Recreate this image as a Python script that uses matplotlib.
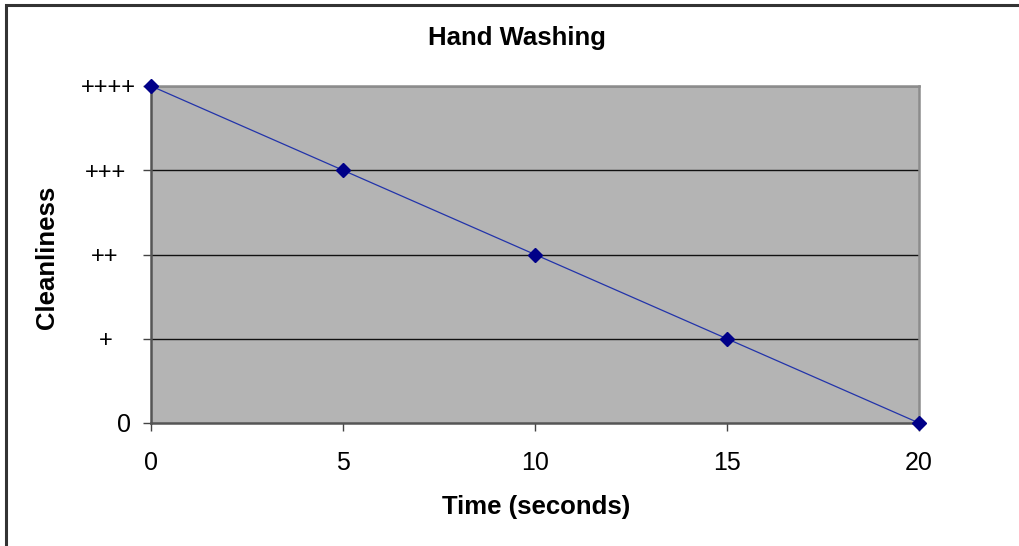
import matplotlib
matplotlib.use("Agg")
import matplotlib.pyplot as plt
import matplotlib.transforms as mtransforms
from matplotlib.patches import Rectangle

time_s = [0, 5, 10, 15, 20]
cleanliness = [4, 3, 2, 1, 0]
x_ticks = [0, 5, 10, 15, 20]
y_ticks = [0, 1, 2, 3, 4]
y_tick_labels = ["0", "+", "++", "+++", "++++"]
y_label_shift_px = [-1, -19, -13, -5, 4]
y_label_size = [18, 17, 17, 17, 17]

plt.rcParams['font.family'] = ['Liberation Sans', 'DejaVu Sans']

W, H = 1019, 546
fig = plt.figure(figsize=(W / 100, H / 100), dpi=100)
fig.patch.set_facecolor('white')

# outer border
fig.add_artist(Rectangle((6 / W, -0.05), 1.1, (H - 5) / H + 0.05, transform=fig.transFigure,
                         fill=False, edgecolor='#333333', linewidth=2.2))

ax = fig.add_axes([151 / W, (H - 423) / H, (919 - 151) / W, (423 - 86) / H])
ax.set_facecolor('#B4B4B4')
ax.set_xlim(0, 20)
ax.set_ylim(0, 4)

for y in y_ticks[1:]:
    ax.axhline(y, color='#111111', linewidth=1.0, zorder=1)

ax.plot(time_s, cleanliness, color='#2233AA', linewidth=0.9, zorder=3, clip_on=False)
ax.plot(time_s, cleanliness, linestyle='none', marker='D', markersize=7,
        color='#000088', zorder=4, clip_on=False)

ax.set_xticks(x_ticks)
ax.set_yticks(y_ticks)
ax.set_yticklabels(y_tick_labels)
ax.tick_params(axis='both', direction='out', length=6, width=1, color='#444444',
               labelsize=18)
ax.tick_params(axis='x', pad=14)
ax.tick_params(axis='y', pad=8)

for lbl, dx, fs in zip(ax.get_yticklabels(), y_label_shift_px, y_label_size):
    lbl.set_fontsize(fs)
    lbl.set_transform(lbl.get_transform() + mtransforms.ScaledTranslation(dx / 100, 0, fig.dpi_scale_trans))

for side in ['left', 'bottom']:
    ax.spines[side].set_color('#555555')
    ax.spines[side].set_linewidth(1.8)
for side in ['top', 'right']:
    ax.spines[side].set_color('#8C8C8C')
    ax.spines[side].set_linewidth(1.8)

fig.text(517 / W, 1 - 38 / H, "Hand Washing", ha='center', va='center',
         fontsize=18.5, fontweight='bold')
fig.text(536 / W, 1 - 507 / H, "Time (seconds)", ha='center', va='center',
         fontsize=18.5, fontweight='bold')
fig.text(47 / W, 1 - 257 / H, "Cleanliness", ha='center', va='center',
         rotation=90, fontsize=18.5, fontweight='bold')

fig.savefig("out.png", dpi=100)
